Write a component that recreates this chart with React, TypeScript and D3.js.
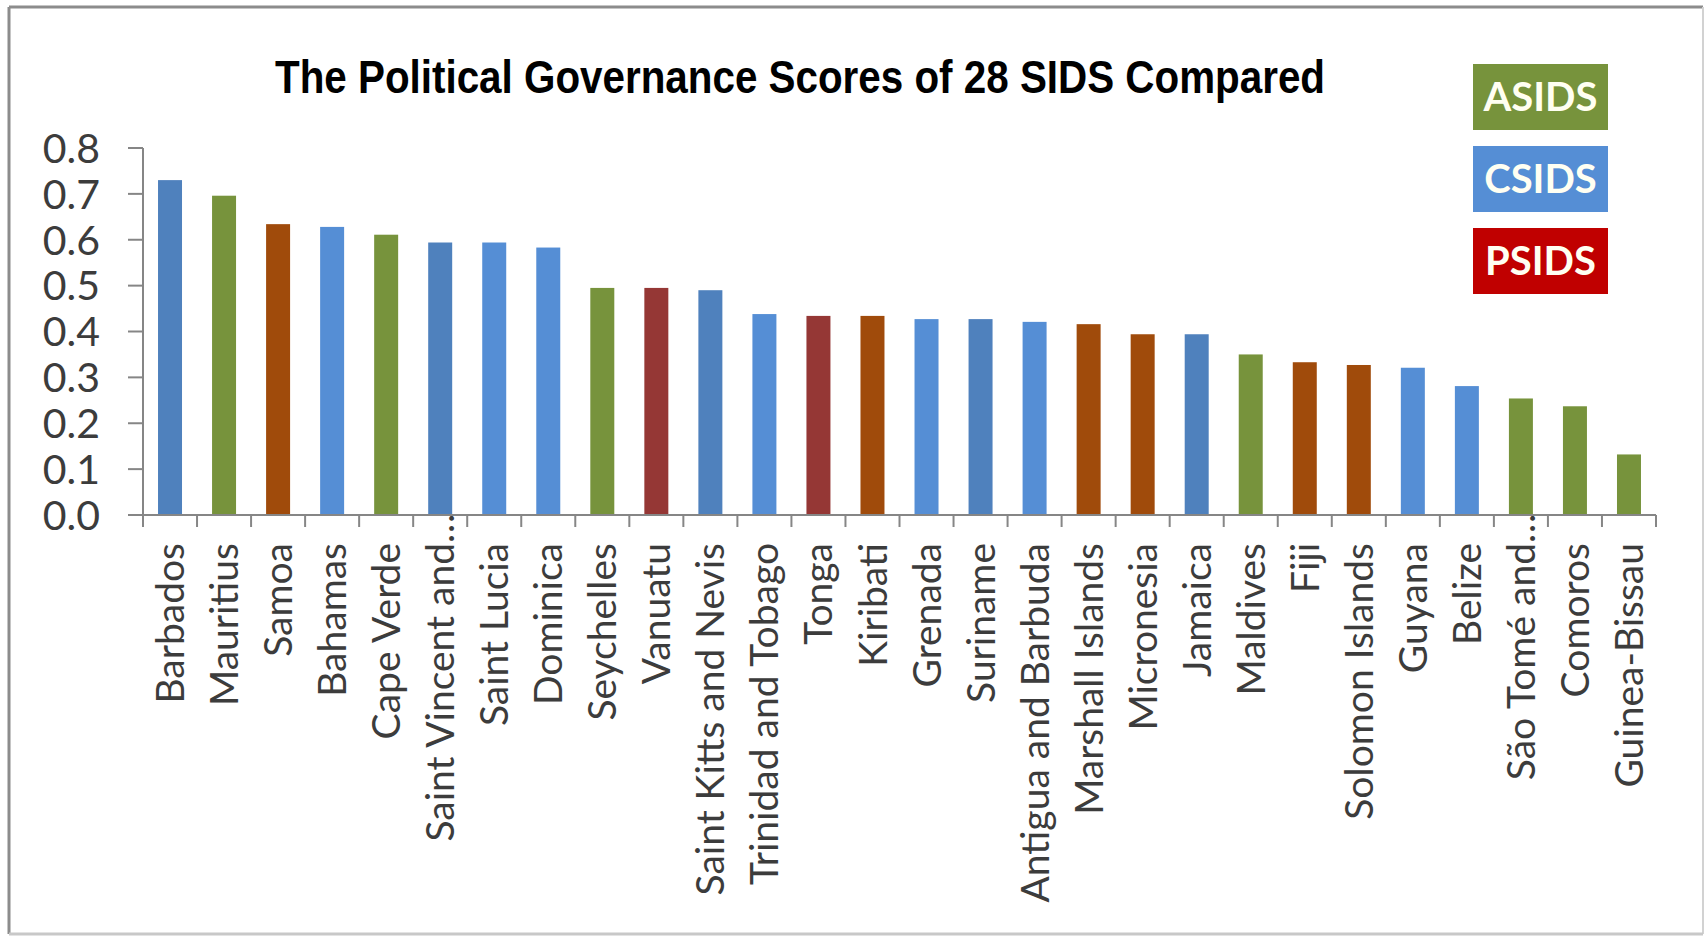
import React from "react";
import * as d3 from "d3";

const title = "The Political Governance Scores of 28 SIDS Compared";

const categories = [
  "Barbados", "Mauritius", "Samoa", "Bahamas", "Cape Verde", "Saint Vincent and…",
  "Saint Lucia", "Dominica", "Seychelles", "Vanuatu", "Saint Kitts and Nevis",
  "Trinidad and Tobago", "Tonga", "Kiribati", "Grenada", "Suriname",
  "Antigua and Barbuda", "Marshall Islands", "Micronesia", "Jamaica", "Maldives",
  "Fiji", "Solomon Islands", "Guyana", "Belize", "São Tomé and…", "Comoros", "Guinea-Bissau",
];

const values = [
  0.730, 0.696, 0.634, 0.628, 0.611, 0.594, 0.594, 0.583, 0.495, 0.495, 0.490,
  0.438, 0.434, 0.434, 0.427, 0.427, 0.421, 0.416, 0.394, 0.394, 0.350,
  0.333, 0.327, 0.321, 0.281, 0.254, 0.237, 0.132,
];

const groups = [
  "CSIDS", "ASIDS", "PSIDS", "CSIDS", "ASIDS", "CSIDS", "CSIDS", "CSIDS", "ASIDS", "PSIDS",
  "CSIDS", "CSIDS", "PSIDS", "PSIDS", "CSIDS", "CSIDS", "CSIDS", "PSIDS", "PSIDS", "CSIDS",
  "ASIDS", "PSIDS", "PSIDS", "CSIDS", "CSIDS", "ASIDS", "ASIDS", "ASIDS",
];

const yTicks = [0, 0.1, 0.2, 0.3, 0.4, 0.5, 0.6, 0.7, 0.8];

const legendLabels = ["ASIDS", "CSIDS", "PSIDS"];

// styling
const shadeVariant = [
  0, 0, 0, 1, 0, 0, 1, 1, 0, 1,
  0, 1, 1, 0, 1, 0, 1, 0, 0, 0,
  0, 0, 0, 1, 1, 0, 0, 0,
];
const groupColors: Record<string, string[]> = {
  ASIDS: ["#77933C", "#77933C"],
  CSIDS: ["#4F81BD", "#558ED5"],
  PSIDS: ["#A04B0B", "#953735"],
};
const legendColors: Record<string, string> = {
  ASIDS: "#77933C",
  CSIDS: "#558ED5",
  PSIDS: "#C00000",
};

const W = 1706;
const H = 936;
const left = 143;
const right = 1656;
const top = 148;
const bottom = 515;

export default function App() {
  const x = d3
    .scaleBand<string>()
    .domain(categories)
    .range([left, right])
    .paddingInner(0.556)
    .paddingOuter(0.278);
  const y = d3.scaleLinear().domain([0, 0.8]).range([bottom, top]);
  const step = x.step();
  const fmt = d3.format(".1f");
  const axisColor = "#868686";
  const textColor = "#3c3c3c";
  const labelY = bottom + 28;

  return (
    <svg
      width={W}
      height={H}
      style={{ position: "absolute", left: 0, top: 0, background: "#fff" }}
    >
      <rect x={0} y={0} width={W} height={H} fill="#fff" />
      {/* frame */}
      <line x1={9} y1={7} x2={1703} y2={7} stroke="#8c8c8c" strokeWidth={3} />
      <line x1={9} y1={7} x2={9} y2={934} stroke="#8c8c8c" strokeWidth={3} />
      <line x1={1703} y1={7} x2={1703} y2={934} stroke="#d2d2d2" strokeWidth={2} />
      <line x1={9} y1={934} x2={1703} y2={934} stroke="#c8c8c8" strokeWidth={3} />

      {/* title */}
      <text
        x={275}
        y={93}
        fontFamily="'Liberation Sans', Arial, sans-serif"
        fontWeight="bold"
        fontSize={46}
        textLength={1050}
        lengthAdjust="spacingAndGlyphs"
        fill="#000"
      >
        {title}
      </text>

      {/* bars */}
      {categories.map((c, i) => (
        <rect
          key={c}
          x={x(c)}
          y={y(values[i])}
          width={x.bandwidth()}
          height={y(0) - y(values[i])}
          fill={groupColors[groups[i]][shadeVariant[i]]}
        />
      ))}

      {/* y axis */}
      <line x1={left} y1={y(0.8)} x2={left} y2={bottom} stroke={axisColor} strokeWidth={2} />
      {yTicks.map((t) => (
        <g key={t}>
          <line x1={left - 15} x2={left} y1={y(t)} y2={y(t)} stroke={axisColor} strokeWidth={2} />
          <text
            x={100}
            y={y(t)}
            dy="0.36em"
            textAnchor="end"
            fontFamily="Lato, 'Open Sans', sans-serif"
            fontSize={41}
            fill={textColor}
          >
            {fmt(t)}
          </text>
        </g>
      ))}

      {/* x axis */}
      <line x1={left - 15} x2={right} y1={bottom} y2={bottom} stroke={axisColor} strokeWidth={2} />
      {d3.range(categories.length + 1).map((k) => (
        <line
          key={k}
          x1={left + k * step}
          x2={left + k * step}
          y1={bottom}
          y2={bottom + 12}
          stroke={axisColor}
          strokeWidth={2}
        />
      ))}
      {categories.map((c) => {
        const cx = (x(c) as number) + x.bandwidth() / 2;
        const truncated = c.endsWith("…");
        const body = truncated ? c.slice(0, -1) : c;
        return (
          <g key={c} transform={`translate(${cx},${labelY}) rotate(-90)`}>
            <text
              x={0}
              y={0}
              dy="0.36em"
              textAnchor="end"
              fontFamily="Lato, 'Open Sans', sans-serif"
              fontSize={39}
              fill={textColor}
            >
              {body}
            </text>
            {truncated && (
              <text
                x={0}
                y={0}
                dy="0.36em"
                textAnchor="start"
                fontFamily="Lato, 'Open Sans', sans-serif"
                fontSize={39}
                fill={textColor}
              >
                …
              </text>
            )}
          </g>
        );
      })}

      {/* legend */}
      {legendLabels.map((l, i) => {
        const ys = [64, 146, 228];
        return (
          <g key={l}>
            <rect x={1473} y={ys[i]} width={135} height={66} fill={legendColors[l]} />
            <text
              x={1473 + 135 / 2}
              y={ys[i] + 33}
              dy="0.36em"
              textAnchor="middle"
              fontFamily="Lato, 'Open Sans', sans-serif"
              fontWeight="bold"
              fontSize={40}
              fill="#fffff2"
            >
              {l}
            </text>
          </g>
        );
      })}
    </svg>
  );
}
